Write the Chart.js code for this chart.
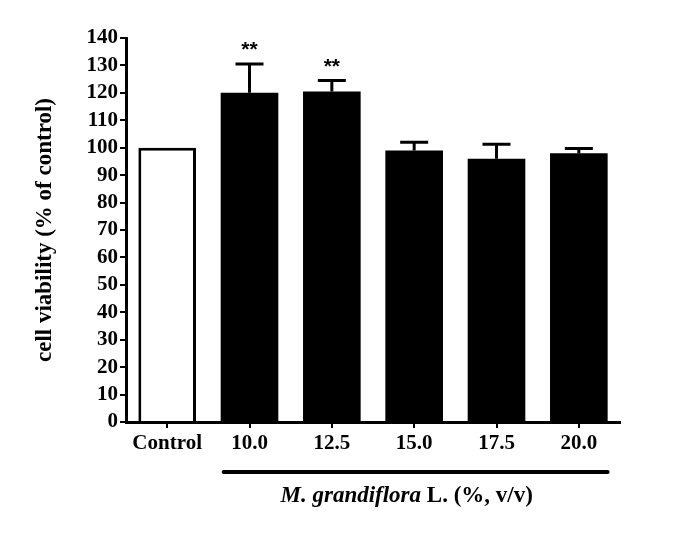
<!DOCTYPE html>
<html lang="en">
<head>
    <meta charset="UTF-8">
    <title>Cell viability</title>
    <style>
        body {
            margin: 0;
            background-color: #ffffff;
        }
        .chart-container {
            width: 685px;
            height: 536px;
        }
    </style>
</head>
<body>
    <div class="chart-container">
        <canvas id="mainChart"></canvas>
    </div>

    <script src="https://cdn.jsdelivr.net/npm/chart.js"></script>
    <script>
        const categories = ["Control", "10.0", "12.5", "15.0", "17.5", "20.0"];
        const viability = [100, 120, 120.5, 99, 96, 98];
        const errors = [0, 10.5, 4, 3, 5.3, 1.7];
        const marks = ["", "**", "**", "", "", ""];
        const yTicks = [0, 10, 20, 30, 40, 50, 60, 70, 80, 90, 100, 110, 120, 130, 140];

        const serif = '"Liberation Serif", "Times New Roman", serif';

        // error bars (upper only), asterisks, and the bracket + axis title under the doses
        const extrasPlugin = {
            id: 'extras',
            afterDatasetsDraw(chart) {
                const ctx = chart.ctx;
                const y = chart.scales.y;
                const bars = chart.getDatasetMeta(0).data;
                ctx.save();
                ctx.strokeStyle = '#000';
                ctx.fillStyle = '#000';
                ctx.lineWidth = 3;
                bars.forEach((bar, i) => {
                    if (!errors[i]) return;
                    const top = y.getPixelForValue(viability[i] + errors[i]);
                    const base = y.getPixelForValue(viability[i]);
                    ctx.beginPath();
                    ctx.moveTo(bar.x, base);
                    ctx.lineTo(bar.x, top);
                    ctx.moveTo(bar.x - 14, top);
                    ctx.lineTo(bar.x + 14, top);
                    ctx.stroke();
                });

                ctx.font = 'bold 21px "Liberation Sans", Arial, sans-serif';
                ctx.textAlign = 'center';
                ctx.textBaseline = 'alphabetic';
                bars.forEach((bar, i) => {
                    if (!marks[i]) return;
                    const top = y.getPixelForValue(viability[i] + errors[i]);
                    ctx.fillText(marks[i], bar.x, top - 8);
                });

                // bracket under the dose groups
                const first = bars[1], last = bars[bars.length - 1];
                const x0 = first.x - first.width / 2 + 3;
                const x1 = last.x + last.width / 2;
                ctx.lineWidth = 4;
                ctx.lineCap = 'round';
                ctx.beginPath();
                ctx.moveTo(x0, 472);
                ctx.lineTo(x1, 472);
                ctx.stroke();

                // mixed italic / bold title
                const part1 = 'M. grandiflora';
                const part2 = ' L. (%, v/v)';
                ctx.textAlign = 'left';
                ctx.textBaseline = 'middle';
                ctx.font = 'italic bold 23px ' + serif;
                const w1 = ctx.measureText(part1).width;
                ctx.font = 'bold 23px ' + serif;
                const w2 = ctx.measureText(part2).width;
                const cx = (x0 + x1) / 2 - 9;
                const startX = cx - (w1 + w2) / 2;
                ctx.font = 'italic bold 23px ' + serif;
                ctx.fillText(part1, startX, 496);
                ctx.font = 'bold 23px ' + serif;
                ctx.fillText(part2, startX + w1, 496);
                ctx.restore();
            }
        };

        const config = {
            type: 'bar',
            data: {
                labels: categories,
                datasets: [{
                    data: viability,
                    backgroundColor: ['#ffffff', '#000000', '#000000', '#000000', '#000000', '#000000'],
                    borderColor: '#000000',
                    borderWidth: [3, 0, 0, 0, 0, 0],
                    borderSkipped: 'bottom',
                    barPercentage: 0.7,
                    categoryPercentage: 1.0
                }]
            },
            options: {
                responsive: true,
                maintainAspectRatio: false,
                animation: false,
                layout: {
                    padding: { left: 0, top: 38, right: 65, bottom: 0 }
                },
                plugins: {
                    legend: { display: false },
                    tooltip: { enabled: false }
                },
                scales: {
                    x: {
                        offset: true,
                        grid: {
                            offset: false,
                            drawOnChartArea: false,
                            drawTicks: true,
                            tickLength: 6,
                            color: '#000',
                            lineWidth: 2
                        },
                        border: { display: true, color: '#000', width: 3 },
                        ticks: {
                            color: '#000',
                            padding: 3,
                            font: { family: serif, size: 21, weight: 'bold' }
                        },
                        afterFit(scale) { scale.height = 114; }
                    },
                    y: {
                        min: 0,
                        max: 140,
                        afterBuildTicks(scale) {
                            scale.ticks = yTicks.map(v => ({ value: v }));
                        },
                        grid: {
                            drawOnChartArea: false,
                            drawTicks: true,
                            tickLength: 6,
                            color: '#000',
                            lineWidth: 2
                        },
                        border: { display: true, color: '#000', width: 3 },
                        ticks: {
                            color: '#000',
                            padding: 2,
                            autoSkip: false,
                            font: { family: serif, size: 21, weight: 'bold', lineHeight: 1 }
                        },
                        title: {
                            display: true,
                            text: 'cell viability (% of control)',
                            color: '#000',
                            padding: { top: 31, bottom: 0 },
                            font: { family: serif, size: 23, weight: 'bold' }
                        },
                        afterFit(scale) { scale.width = 126; }
                    }
                }
            },
            plugins: [extrasPlugin]
        };

        const ctx = document.getElementById('mainChart').getContext('2d');
        const chart = new Chart(ctx, config);
    </script>
</body>
</html>
